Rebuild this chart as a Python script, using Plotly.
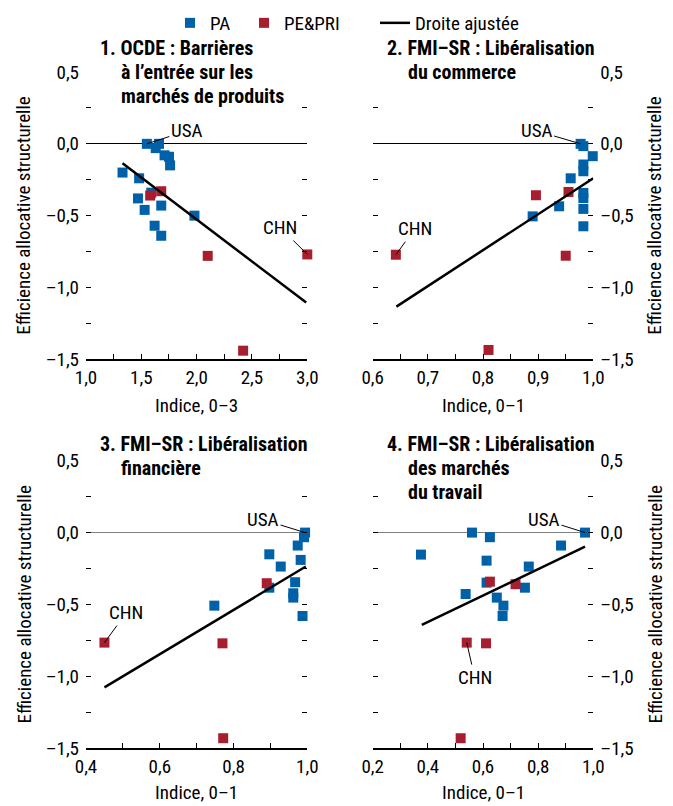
import plotly.graph_objects as go

# Données (4 panneaux)
P1_PA_X = [1.55, 1.66, 1.63, 1.71, 1.75, 1.76, 1.33, 1.48, 1.59, 1.47, 1.53, 1.68, 1.98, 1.62, 1.68]
P1_PA_Y = [0.0, 0.0, -0.03, -0.08, -0.09, -0.15, -0.20, -0.24, -0.34, -0.38, -0.46, -0.43, -0.50, -0.57, -0.64]
P1_PE_X = [1.58, 1.68, 2.10, 3.0, 2.42]
P1_PE_Y = [-0.36, -0.33, -0.78, -0.77, -1.44]
P1_FIT_X = [1.33, 2.99]
P1_FIT_Y = [-0.135, -1.105]

P2_PA_X = [0.977, 0.982, 0.999, 0.982, 0.982, 0.959, 0.982, 0.982, 0.938, 0.982, 0.890, 0.982]
P2_PA_Y = [0.0, -0.016, -0.086, -0.144, -0.191, -0.24, -0.342, -0.377, -0.435, -0.453, -0.505, -0.574]
P2_PE_X = [0.896, 0.955, 0.642, 0.950, 0.810]
P2_PE_Y = [-0.358, -0.335, -0.772, -0.779, -1.435]
P2_FIT_X = [0.643, 1.0]
P2_FIT_Y = [-1.133, -0.24]

P3_PA_X = [0.994, 0.991, 0.974, 0.897, 0.982, 0.928, 0.897, 0.967, 0.962, 0.962, 0.987, 0.748]
P3_PA_Y = [0.0, -0.032, -0.09, -0.151, -0.19, -0.236, -0.383, -0.345, -0.422, -0.452, -0.58, -0.508]
P3_PE_X = [0.890, 0.450, 0.770, 0.772]
P3_PE_Y = [-0.352, -0.765, -0.77, -1.43]
P3_FIT_X = [0.45, 0.996]
P3_FIT_Y = [-1.076, -0.236]

P4_PA_X = [0.970, 0.560, 0.625, 0.375, 0.883, 0.613, 0.766, 0.613, 0.752, 0.537, 0.650, 0.674, 0.671]
P4_PA_Y = [0.0, 0.0, -0.032, -0.153, -0.09, -0.195, -0.236, -0.348, -0.383, -0.427, -0.452, -0.508, -0.58]
P4_PE_X = [0.625, 0.718, 0.541, 0.611, 0.519]
P4_PE_Y = [-0.341, -0.359, -0.765, -0.77, -1.43]
P4_FIT_X = [0.378, 0.970]
P4_FIT_Y = [-0.642, -0.097]

Y_TICKS = [0.5, 0.25, 0.0, -0.25, -0.5, -0.75, -1.0, -1.25, -1.5]
Y_LABELS = ["0,5", "", "0,0", "", "–0,5", "", "–1,0", "", "–1,5"]
X1_TICKS = [1.0, 1.25, 1.5, 1.75, 2.0, 2.25, 2.5, 2.75, 3.0]
X1_LABELS = ["1,0", "", "1,5", "", "2,0", "", "2,5", "", "3,0"]
X2_TICKS = [0.6, 0.65, 0.7, 0.75, 0.8, 0.85, 0.9, 0.95, 1.0]
X2_LABELS = ["0,6", "", "0,7", "", "0,8", "", "0,9", "", "1,0"]
X3_TICKS = [0.4, 0.5, 0.6, 0.7, 0.8, 0.9, 1.0]
X3_LABELS = ["0,4", "", "0,6", "", "0,8", "", "1,0"]
X4_TICKS = [0.2, 0.3, 0.4, 0.5, 0.6, 0.7, 0.8, 0.9, 1.0]
X4_LABELS = ["0,2", "", "0,4", "", "0,6", "", "0,8", "", "1,0"]

TITRES = [
    ["1. OCDE : Barrières", "à l’entrée sur les", "marchés de produits"],
    ["2. FMI–SR : Libéralisation", "du commerce"],
    ["3. FMI–SR : Libéralisation", "financière"],
    ["4. FMI–SR : Libéralisation", "des marchés", "du travail"],
]
X_TITRES = ["Indice, 0–3", "Indice, 0–1", "Indice, 0–1", "Indice, 0–1"]
Y_TITRE = "Efficience allocative structurelle"

BLEU = "#0061a8"
ROUGE = "#a71f2f"
FONT = "Liberation Sans Narrow, Arial Narrow, Roboto Condensed, DejaVu Sans Condensed, sans-serif"
W, H = 673, 806

# positions des panneaux en pixels (gauche, droite, haut, bas)
PANNEAUX = [(86, 307.3, 72, 359.3), (372.7, 593.3, 72, 359.3),
            (86, 307.3, 460.7, 748.3), (372.7, 593.3, 460.7, 748.3)]

donnees = [
    (P1_PA_X, P1_PA_Y, P1_PE_X, P1_PE_Y, P1_FIT_X, P1_FIT_Y, X1_TICKS, X1_LABELS, [1.0, 3.0]),
    (P2_PA_X, P2_PA_Y, P2_PE_X, P2_PE_Y, P2_FIT_X, P2_FIT_Y, X2_TICKS, X2_LABELS, [0.6, 1.0]),
    (P3_PA_X, P3_PA_Y, P3_PE_X, P3_PE_Y, P3_FIT_X, P3_FIT_Y, X3_TICKS, X3_LABELS, [0.4, 1.0]),
    (P4_PA_X, P4_PA_Y, P4_PE_X, P4_PE_Y, P4_FIT_X, P4_FIT_Y, X4_TICKS, X4_LABELS, [0.2, 1.0]),
]

fig = go.Figure()
annotations = []

for i, (pax, pay, pex, pey, fx, fy, xt, xl, xr) in enumerate(donnees):
    n = "" if i == 0 else str(i + 1)
    xa, ya = "x" + n, "y" + n
    first = i == 0
    fig.add_trace(go.Scatter(x=pax, y=pay, mode="markers", name="PA", xaxis=xa, yaxis=ya,
                             marker=dict(symbol="square", size=10, color=BLEU),
                             cliponaxis=False, showlegend=first, legend="legend"))
    fig.add_trace(go.Scatter(x=pex, y=pey, mode="markers", name="PE&PRI", xaxis=xa, yaxis=ya,
                             marker=dict(symbol="square", size=10, color=ROUGE),
                             cliponaxis=False, showlegend=first, legend="legend2"))
    fig.add_trace(go.Scatter(x=fx, y=fy, mode="lines", name="Droite ajustée", xaxis=xa, yaxis=ya,
                             line=dict(color="black", width=2.5),
                             cliponaxis=False, showlegend=first, legend="legend3"))

    l, r, t, b = PANNEAUX[i]
    droite = i in (1, 3)
    zcol = "black" if i < 2 else "#808080"
    fig.update_layout(**{
        "xaxis" + n: dict(domain=[l / W, r / W], range=xr, anchor=ya, tickvals=xt, ticktext=xl,
                          ticks="inside", ticklen=6, tickcolor="black", showline=True,
                          linecolor="black", linewidth=1.5, showgrid=False, zeroline=False,
                          tickfont=dict(size=19)),
        "yaxis" + n: dict(domain=[1 - b / H, 1 - t / H], range=[-1.5, 0.5], anchor=xa,
                          side="right" if droite else "left", tickvals=Y_TICKS, ticktext=Y_LABELS,
                          ticks="inside", ticklen=5, tickcolor="black", mirror="ticks",
                          ticklabelstandoff=6,
                          showline=False, showgrid=False, zeroline=True, zerolinecolor=zcol,
                          zerolinewidth=1.2, tickfont=dict(size=19)),
    })

    # titres des panneaux
    for k, ligne in enumerate(TITRES[i]):
        x0 = l + 12 if k == 0 else l + 33
        y0 = (48 if i < 2 else 444) + 24 * k
        annotations.append(dict(text="<b>" + ligne + "</b>", xref="paper", yref="paper",
                                x=x0 / W, y=1 - y0 / H, xanchor="left", yanchor="middle",
                                showarrow=False, font=dict(size=20, color="black")))
    # titre axe x
    annotations.append(dict(text=X_TITRES[i], xref="paper", yref="paper", x=(l + r) / 2 / W,
                            y=1 - (405 if i < 2 else 792) / H, xanchor="center", yanchor="middle",
                            showarrow=False, font=dict(size=19)))
    # titre axe y
    annotations.append(dict(text=Y_TITRE, xref="paper", yref="paper",
                            x=(655 if droite else 24) / W, y=1 - (t + b) / 2 / H, textangle=-90,
                            xanchor="center", yanchor="middle", showarrow=False, font=dict(size=19)))

# étiquettes USA / CHN
ETIQUETTES = [
    ("x", "y", 1.55, 0.0, "USA", 40, -13),
    ("x", "y", 3.0, -0.77, "CHN", -27, -27),
    ("x2", "y2", 0.977, 0.0, "USA", -44, -13),
    ("x2", "y2", 0.642, -0.772, "CHN", 19, -26),
    ("x3", "y3", 0.994, 0.0, "USA", -42, -13),
    ("x3", "y3", 0.450, -0.765, "CHN", 22, -30),
    ("x4", "y4", 0.970, 0.0, "USA", -41, -13),
    ("x4", "y4", 0.541, -0.765, "CHN", 8, 35),
]
for xr_, yr_, x, y, txt, ax, ay in ETIQUETTES:
    annotations.append(dict(text=txt, xref=xr_, yref=yr_, x=x, y=y, ax=ax, ay=ay,
                            showarrow=True, arrowhead=0, arrowwidth=1, arrowcolor="black",
                            standoff=0, font=dict(size=19)))

leg = dict(orientation="h", yanchor="top", y=1 - 4 / H, xanchor="left",
           bgcolor="rgba(0,0,0,0)", font=dict(size=19), itemclick=False)
fig.update_layout(
    width=W, height=H,
    margin=dict(l=0, r=0, t=0, b=0, autoexpand=False),
    paper_bgcolor="white", plot_bgcolor="white",
    font=dict(family=FONT, size=19, color="black"),
    separators=", ",
    annotations=annotations,
    legend=dict(leg, x=170 / W),
    legend2=dict(leg, x=244 / W),
    legend3=dict(leg, x=375 / W),
)

fig.write_html("out.html", config={"displayModeBar": False},
               post_script="document.body.style.margin='0';document.body.style.overflow='hidden';")
